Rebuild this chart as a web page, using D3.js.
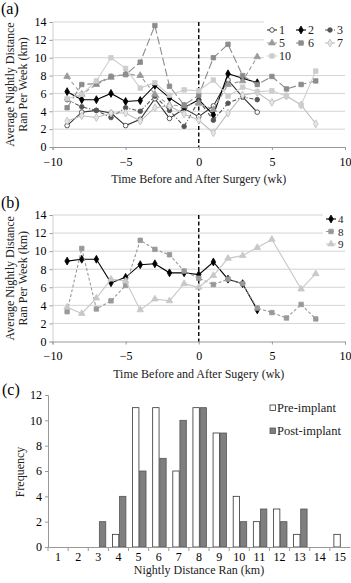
<!DOCTYPE html>
<html lang="en">
<head>
<meta charset="UTF-8">
<title>Nightly running distance</title>
<script src="https://d3js.org/d3.v7.min.js"></script>
<style>
    body { margin: 0; background: #fff; }
    svg { display: block; }
    svg text { font-family: "Liberation Serif", "DejaVu Serif", serif; }
</style>
</head>
<body>
<svg width="351" height="583"></svg>
<script>
// ---- data ----
var weeks = [-9, -8, -7, -6, -5, -4, -3, -2, -1, 0, 1, 2, 3, 4, 5, 6, 7, 8];

// panel (a)
var s1  = [2.4, 3.9, 4.1, 3.8, 2.4, 3.1, 5.4, 3.2, 4.3, 3.4, 4.6, 7.5, 5.6, 3.9, null, null, null, null];
var s2  = [6.2, 5.3, 5.3, 6.0, 5.1, 5.2, 6.9, 5.5, 4.4, 5.3, 3.6, 8.2, 7.7, 7.2, null, null, null, null];
var s3  = [5.3, 4.5, 4.1, 3.3, 4.4, 4.0, 5.7, 4.1, 2.3, 5.2, 3.0, 4.9, 5.6, 5.3, null, null, null, null];
var s5  = [7.9, 5.9, 7.0, 7.8, 8.2, 8.0, 5.9, 4.7, 4.6, 4.9, 4.2, 7.0, 7.4, 10.1, null, null, null, null];
var s6  = [4.4, 7.0, 7.1, 7.9, 8.1, 9.5, 13.6, 6.8, 4.7, 5.8, 10.0, 11.5, 8.0, 7.0, 7.9, 6.5, 7.0, 7.4];
var s7  = [2.9, 3.5, 3.3, 3.8, 3.8, 2.9, 4.4, 4.6, 3.7, 3.0, 1.6, 3.8, 5.8, 6.1, 5.0, 5.7, 4.7, 2.6];
var s10 = [5.4, 5.9, 7.4, 10.0, 8.8, 6.6, 7.2, 5.8, 6.4, 6.3, 7.5, 5.7, 6.7, 6.2, 6.3, 5.7, 4.7, 8.5];

// panel (b)
var s4 = [8.9, 9.1, 9.1, 6.5, 7.1, 8.5, 8.6, 7.6, 7.6, 7.4, 8.8, 6.9, 6.4, 3.5, null, null, null, null];
var s8 = [3.3, 10.3, 3.6, 4.5, 6.2, 11.2, 10.2, 9.6, 7.8, 7.0, 6.3, 6.9, 6.4, 3.7, 3.2, 2.6, 4.1, 2.5];
var s9 = [3.8, 3.1, 4.8, 6.9, 6.7, 3.5, 4.7, 4.5, 6.4, 6.0, 7.3, 9.2, 9.5, 10.4, 11.3, null, 5.8, 7.5];

// panel (c)
var distances = ["1", "2", "3", "4", "5", "6", "7", "8", "9", "10", "11", "12", "13", "14", "15"];
var preImplant  = [0, 0, 0, 1, 11, 11, 6, 11, 9, 4, 2, 3, 1, 0, 1];
var postImplant = [0, 0, 2, 4, 6, 7, 10, 11, 9, 2, 3, 2, 3, 0, 0];

var weekTicks = [-10, -5, 0, 5, 10];
var kmTicks = [0, 2, 4, 6, 8, 10, 12, 14];
var freqTicks = [0, 2, 4, 6, 8, 10, 12];

var SERIF = "'Liberation Serif', 'DejaVu Serif', serif";

var seriesA = [
    {name: "1",  values: s1,  color: "#333", shape: d3.symbolCircle,   fill: "#fff", dash: null},
    {name: "2",  values: s2,  color: "#000", shape: d3.symbolDiamond,  fill: "#000", dash: null},
    {name: "3",  values: s3,  color: "#555", shape: d3.symbolCircle,   fill: "#555", dash: "4,2,1,2"},
    {name: "5",  values: s5,  color: "#9a9a9a", shape: d3.symbolTriangle, fill: "#9a9a9a", dash: "4,3"},
    {name: "6",  values: s6,  color: "#8c8c8c", shape: d3.symbolSquare, fill: "#8c8c8c", dash: "8,3"},
    {name: "7",  values: s7,  color: "#bdbdbd", shape: d3.symbolDiamond, fill: "#e6e6e6", dash: null},
    {name: "10", values: s10, color: "#cdcdcd", shape: d3.symbolSquare, fill: "#cdcdcd", dash: null}
];
var seriesB = [
    {name: "4", values: s4, color: "#000", shape: d3.symbolDiamond, fill: "#000", dash: null},
    {name: "8", values: s8, color: "#999", shape: d3.symbolSquare, fill: "#999", dash: "3,2"},
    {name: "9", values: s9, color: "#c8c8c8", shape: d3.symbolTriangle, fill: "#c8c8c8", dash: null}
];

var svg = d3.select("svg");

function symbolSize(shape) {
    if (shape === d3.symbolSquare) return 20;
    if (shape === d3.symbolTriangle) return 19;
    if (shape === d3.symbolDiamond) return 18;
    return 17;
}

function linePanel(top, bottom, series, xTitle, yLegend) {
    var x = d3.scaleLinear().domain([-10, 10]).range([52.5, 345]);
    var y = d3.scaleLinear().domain([0, 14]).range([bottom, top]);
    var g = svg.append("g");

    // gridlines
    g.selectAll(".grid").data(kmTicks.slice(1)).enter().append("line")
        .attr("x1", x(-10)).attr("x2", x(10))
        .attr("y1", function(d) { return y(d); }).attr("y2", function(d) { return y(d); })
        .attr("stroke", "#d4d4d4").attr("stroke-width", 1);

    var ya = g.append("g").attr("transform", "translate(" + x(-10) + ",0)")
        .call(d3.axisLeft(y).tickValues(kmTicks).tickSize(3).tickPadding(3));
    ya.select(".domain").attr("stroke", "#d0d0d0");
    ya.selectAll(".tick line").attr("stroke", "#999");
    ya.selectAll("text").style("font-size", "12px");

    var xa = g.append("g").attr("transform", "translate(0," + y(0) + ")")
        .call(d3.axisBottom(x).tickValues(weekTicks).tickSize(3).tickPadding(7));
    xa.select(".domain").attr("stroke", "#999");
    xa.selectAll(".tick line").attr("stroke", "#999");
    xa.selectAll("text").style("font-size", "12px");

    // surgery line
    g.append("line")
        .attr("x1", x(0)).attr("x2", x(0)).attr("y1", y(14)).attr("y2", y(0))
        .attr("stroke", "#000").attr("stroke-width", 1.4).attr("stroke-dasharray", "4,2.5");

    var line = d3.line()
        .x(function(d) { return x(d.w); })
        .y(function(d) { return y(d.v); });

    series.forEach(function(s) {
        var pts = weeks.map(function(w, i) { return {w: w, v: s.values[i]}; })
            .filter(function(d) { return d.v != null; });
        g.append("path").datum(pts)
            .attr("d", line).attr("fill", "none")
            .attr("stroke", s.color).attr("stroke-width", 1.1)
            .attr("stroke-dasharray", s.dash);
        g.selectAll(null).data(pts).enter().append("path")
            .attr("d", d3.symbol().type(s.shape).size(symbolSize(s.shape)))
            .attr("transform", function(d) { return "translate(" + x(d.w) + "," + y(d.v) + ")"; })
            .attr("fill", s.fill).attr("stroke", s.color).attr("stroke-width", 0.8);
    });

    // axis titles
    g.append("text").attr("x", (x(-10) + x(10)) / 2).attr("y", bottom + 36)
        .attr("text-anchor", "middle").style("font-size", "12px").attr("fill", "#222")
        .text(xTitle);
    var mid = (top + bottom) / 2;
    g.append("text").attr("transform", "translate(14," + mid + ") rotate(-90)")
        .attr("text-anchor", "middle").style("font-size", "12px").attr("fill", "#222")
        .text("Average Nightly Distance");
    g.append("text").attr("transform", "translate(27," + mid + ") rotate(-90)")
        .attr("text-anchor", "middle").style("font-size", "12px").attr("fill", "#222")
        .text("Ran Per Week (km)");

    // legend
    var lg = g.append("g");
    lg.append("rect").attr("x", yLegend.x0).attr("y", yLegend.y0)
        .attr("width", 351 - yLegend.x0).attr("height", yLegend.h).attr("fill", "#fff");
    series.forEach(function(s, i) {
        var col = i % yLegend.cols, row = Math.floor(i / yLegend.cols);
        var lx = yLegend.x + col * yLegend.dx, ly = yLegend.y + row * yLegend.dy;
        lg.append("line").attr("x1", lx).attr("x2", lx + 10).attr("y1", ly).attr("y2", ly)
            .attr("stroke", s.color).attr("stroke-width", 1.1).attr("stroke-dasharray", s.dash);
        lg.append("path").attr("d", d3.symbol().type(s.shape).size(symbolSize(s.shape)))
            .attr("transform", "translate(" + (lx + 5) + "," + ly + ")")
            .attr("fill", s.fill).attr("stroke", s.color).attr("stroke-width", 0.8);
        lg.append("text").attr("x", lx + 12).attr("y", ly + 4)
            .style("font-size", yLegend.font).attr("fill", "#222").text(s.name);
    });
}

linePanel(22, 147, seriesA, "Time Before and After Surgery (wk)",
    {x: 267, y: 30, dx: 29, dy: 13, cols: 3, x0: 264, y0: 21, h: 42, font: "12px"});
linePanel(215, 341.5, seriesB, "Time Before and After Sugery (wk)",
    {x: 326, y: 219, dx: 0, dy: 12.5, cols: 1, x0: 323, y0: 209, h: 40, font: "11px"});

// panel labels
svg.append("text").attr("x", 1).attr("y", 14).style("font-size", "16px").text("(a)");
svg.append("text").attr("x", 1).attr("y", 208).style("font-size", "16px").text("(b)");
svg.append("text").attr("x", 2).attr("y", 395).style("font-size", "16px").text("(c)");

// ---- panel (c): histogram ----
(function() {
    var x0 = d3.scaleBand().domain(distances).range([48, 350]);
    var keys = ["pre", "post"];
    var x1 = d3.scaleBand().domain(keys).range([4, 17.5]).paddingInner(0.1);
    var y = d3.scaleLinear().domain([0, 12]).range([547, 395]);
    var g = svg.append("g");

    var rows = distances.map(function(d, i) { return {km: d, pre: preImplant[i], post: postImplant[i]}; });

    var bar = g.selectAll(".grp").data(rows).enter().append("g")
        .attr("transform", function(d) { return "translate(" + x0(d.km) + ",0)"; });
    bar.selectAll("rect").data(function(d) {
            return keys.map(function(k) { return {key: k, value: d[k]}; });
        })
        .enter().append("rect")
        .attr("x", function(d) { return x1(d.key); })
        .attr("y", function(d) { return y(d.value); })
        .attr("width", x1.bandwidth())
        .attr("height", function(d) { return y(0) - y(d.value); })
        .attr("fill", function(d) { return d.key === "pre" ? "#fff" : "#7f7f7f"; })
        .attr("stroke", function(d) { return d.key === "pre" ? "#333" : "#555"; })
        .attr("stroke-width", 0.8)
        .style("display", function(d) { return d.value > 0 ? null : "none"; });

    var ya = g.append("g").attr("transform", "translate(48,0)")
        .call(d3.axisLeft(y).tickValues(freqTicks).tickSize(3).tickPadding(3));
    ya.select(".domain").attr("stroke", "#999");
    ya.selectAll(".tick line").attr("stroke", "#999");
    ya.selectAll("text").style("font-size", "12px");

    var xa = g.append("g").attr("transform", "translate(0,547)")
        .call(d3.axisBottom(x0).tickSize(0).tickPadding(5));
    xa.select(".domain").attr("stroke", "#999");
    xa.selectAll("text").style("font-size", "12px");
    // category boundary ticks
    g.selectAll(".btick").data(distances).enter().append("line")
        .attr("x1", function(d) { return x0(d); }).attr("x2", function(d) { return x0(d); })
        .attr("y1", 547).attr("y2", 551).attr("stroke", "#999");

    g.append("text").attr("x", 199).attr("y", 574).attr("text-anchor", "middle")
        .style("font-size", "12px").attr("fill", "#222").text("Nightly Distance Ran (km)");
    g.append("text").attr("transform", "translate(24,472) rotate(-90)")
        .attr("text-anchor", "middle").style("font-size", "12px").attr("fill", "#222").text("Frequency");

    var legend = [{label: "Pre-implant", fill: "#fff", stroke: "#333", y: 408},
                  {label: "Post-implant", fill: "#7f7f7f", stroke: "#555", y: 431}];
    legend.forEach(function(l) {
        g.append("rect").attr("x", 270).attr("y", l.y - 3).attr("width", 5.5).attr("height", 5.5)
            .attr("fill", l.fill).attr("stroke", l.stroke).attr("stroke-width", 0.8);
        g.append("text").attr("x", 277).attr("y", l.y + 4).style("font-size", "12.5px")
            .attr("fill", "#222").text(l.label);
    });
})();

// d3 axes set their own sans-serif font; use the serif face everywhere
svg.selectAll("g").attr("font-family", null);
svg.selectAll("text").attr("font-family", SERIF).style("font-family", SERIF);
</script>
</body>
</html>
